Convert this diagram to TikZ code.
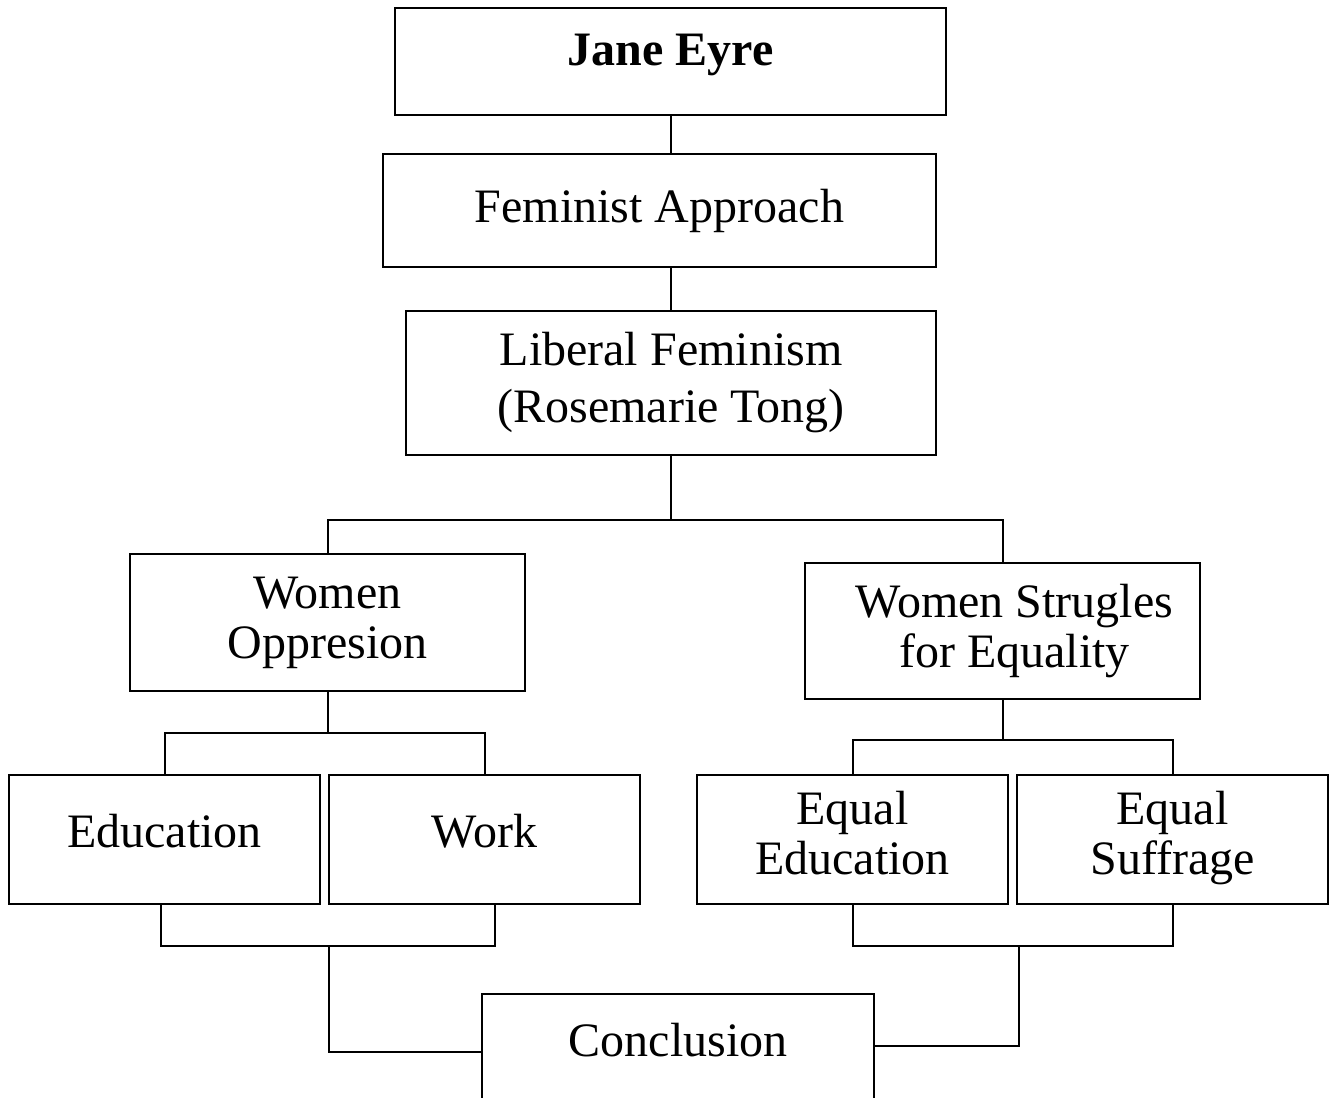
\documentclass[tikz,border=0pt]{standalone}
\usepackage{fontspec}
\setmainfont{Liberation Serif}

\begin{document}
\begin{tikzpicture}  % ------ Jane Eyre : plan -------------------
      [x=0.5pt,y=-0.5pt, line width=1pt,
       box/.style={draw, inner sep=0pt, align=center, font=\fontsize{24}{25}\selectfont}]

    \useasboundingbox (0,0) rectangle (1336,1097);

    \node[box, minimum width=275.5pt, minimum height=53.5pt, text depth=12pt, font=\fontsize{24}{25}\selectfont\bfseries] (JE) at (670.5,61.5) {Jane Eyre};
    \node[box, minimum width=276.5pt, minimum height=56.5pt] (FA) at (659.5,210.5) {Feminist Approach};
    \node[box, minimum width=265pt, minimum height=72pt, font=\fontsize{24}{28.5}\selectfont] (LF) at (671,383) {Liberal Feminism\\(Rosemarie Tong)};
    \node[box, minimum width=197.5pt, minimum height=68.5pt] (WO) at (327.5,622.5) {Women\\Oppresion};
    \node[box, minimum width=197.5pt, minimum height=68pt] (WS) at (1002.5,631) {\hspace{12pt}Women Strugles\\\hspace{12pt}for Equality};
    \node[box, minimum width=155.5pt, minimum height=64.5pt, text depth=9pt] (Ed) at (164.5,839.5) {Education};
    \node[box, minimum width=155.5pt, minimum height=64.5pt, text depth=9pt] (Wk) at (484.5,839.5) {Work};
    \node[box, minimum width=155.5pt, minimum height=64.5pt] (EE) at (852.5,839.5) {Equal\strut\\Education\strut};
    \node[box, minimum width=155.5pt, minimum height=64.5pt] (ES) at (1172.5,839.5) {Equal\strut\\Suffrage\strut};
    \node[box, minimum width=196pt, minimum height=63pt,
          label={[yshift=8.5pt, font=\fontsize{24}{25}\selectfont]center:Conclusion}] (C) at (678,1057) {};

    \coordinate (J1) at (671,520);
    \coordinate (J2) at (327.5,733);
    \coordinate (J3) at (1002.5,740);
    \coordinate (J4) at (329,946);
    \coordinate (J5) at (329,1052);
    \coordinate (J6) at (1019,946);
    \coordinate (J7) at (1019,1046);

    \draw (JE.south) -- (JE.south |- FA.north) ;
    \draw (LF.north |- FA.south) -- (LF.north) ;
    \draw (LF.south) -- (J1) ;
    \draw (WO.north) |- (J1) -| (WS.north) ;
    \draw (WO.south) -- (J2) ; \draw (Ed.north) |- (J2) -| (Wk.north) ;
    \draw (WS.south) -- (J3) ; \draw (EE.north) |- (J3) -| (ES.north) ;
    \draw ([xshift=-2pt]Ed.south) |- (J4) -| ([xshift=5pt]Wk.south) ; % bas gauche
    \draw (J4) -- (J5) -- (J5 -| C.west) ;
    \draw (EE.south) |- (J6) -| (ES.south) ; % bas droite
    \draw (J6) -- (J7) -- (J7 -| C.east) ;
\end{tikzpicture}
\end{document}
